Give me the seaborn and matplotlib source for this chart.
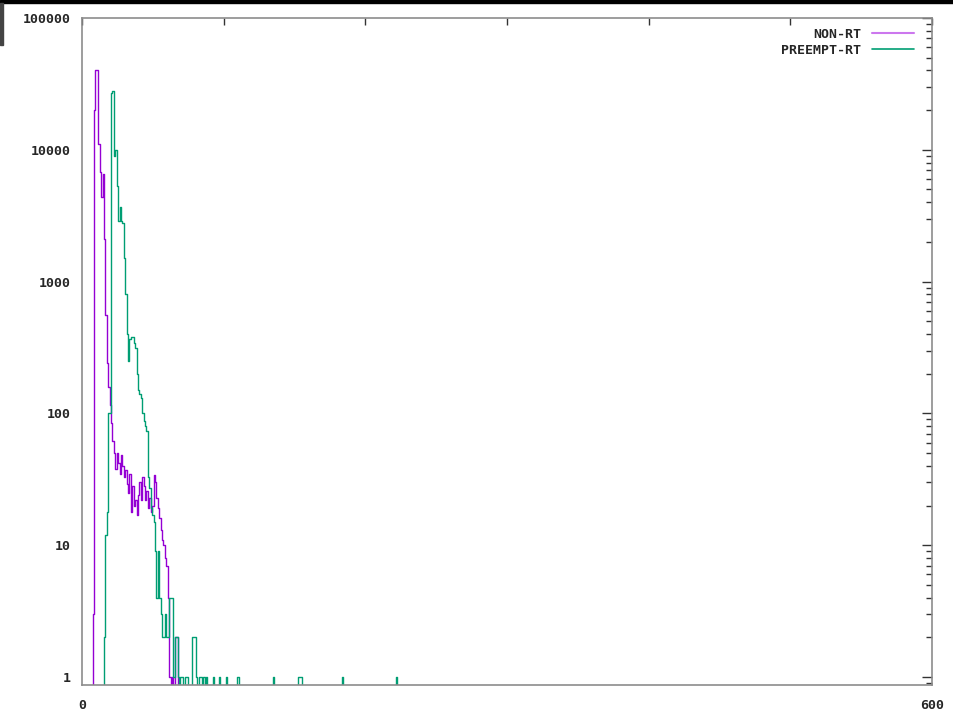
import numpy as np
import pandas as pd
import matplotlib
matplotlib.use("Agg")
import matplotlib.pyplot as plt
from matplotlib.lines import Line2D
from matplotlib.patches import Rectangle
import seaborn as sns

# histogram bins (latency, 1 unit per bin)
latency = np.arange(0, 241)

# NON-RT counts, first value sits in bin 8
nonrt_start = 8
nonrt_counts = [3, 20000, 40000, 40000, 11000, 6800, 4400, 6500, 2100, 560,  # 8-17
                240, 160, 115, 85, 62, 50, 38, 50, 42, 35,                  # 18-27
                48, 40, 33, 37, 29, 25, 35, 18, 28, 20,                     # 28-37
                22, 17, 24, 30, 22, 33, 28, 22, 26, 19,                     # 38-47
                23, 18, 20, 34, 30, 23, 19, 16, 13, 11,                     # 48-57
                10, 8, 7, 4, 1, 0, 1, 0, 2, 2]                              # 58-67

# PREEMPT-RT counts, first value sits in bin 16
preempt_start = 16
preempt_counts = [2, 12, 18, 100, 100, 27000, 28000, 9000, 10000, 5300,     # 16-25
                  2900, 3700, 2900, 2800, 1500, 810, 400, 250, 370, 380,    # 26-35
                  380, 340, 315, 200, 150, 140, 130, 100, 88, 80,           # 36-45
                  74, 33, 27, 19, 17, 15, 9, 4, 9, 4,                       # 46-55
                  3, 2, 2, 3, 2, 2, 4, 4, 4, 1,                             # 56-65
                  2, 2, 1, 0, 1, 1, 0, 1, 1, 0,                             # 66-75
                  0, 0, 2, 2, 2, 1, 0, 1, 1, 0,                             # 76-85
                  1, 0, 1, 0]                                               # 86-89

# isolated outliers further out
preempt_tail_bins = [93, 97, 102, 110, 135, 153, 154, 155, 184, 222]
preempt_tail_counts = [1, 1, 1, 1, 1, 1, 1, 1, 1, 1]

nonrt = np.zeros(len(latency))
nonrt[nonrt_start:nonrt_start + len(nonrt_counts)] = nonrt_counts
preempt = np.zeros(len(latency))
preempt[preempt_start:preempt_start + len(preempt_counts)] = preempt_counts
preempt[preempt_tail_bins] = preempt_tail_counts

df = pd.concat([
    pd.DataFrame({"latency": latency, "count": nonrt, "kernel": "NON-RT"}),
    pd.DataFrame({"latency": latency, "count": preempt, "kernel": "PREEMPT-RT"}),
])

colors = {"NON-RT": "#9400d3", "PREEMPT-RT": "#009e73"}

sns.set_style("white")
plt.rcParams["font.family"] = ["DejaVu Sans Mono"]
plt.rcParams["font.weight"] = "bold"

fig = plt.figure(figsize=(9.54, 7.17), dpi=100)
ax = fig.add_axes([82 / 954, 1 - 685 / 717, 850 / 954, 667 / 717])

sns.lineplot(data=df, x="latency", y="count", hue="kernel", palette=colors,
             estimator=None, drawstyle="steps-mid", linewidth=1.0,
             legend=False, ax=ax)

ax.set_yscale("log", nonpositive="clip")
ax.set_xlim(0, 600)
ax.set_ylim(0.87, 100000)

ax.set_xticks(range(0, 601, 100))
ax.set_xticklabels(["0", "", "", "", "", "", "600"])
ax.set_yticks([1, 10, 100, 1000, 10000, 100000])
ax.set_yticklabels(["1", "10", "100", "1000", "10000", "100000"])
ax.tick_params(axis="both", which="both", direction="in", top=True, right=True,
               labelsize=9.5, color="#333333")
ax.tick_params(axis="x", which="major", length=5, width=1, pad=10)
ax.tick_params(axis="y", which="major", length=7, width=1, pad=8)
ax.tick_params(axis="y", which="minor", length=4, width=1)
ax.set_xlabel("")
ax.set_ylabel("")
for spine in ax.spines.values():
    spine.set_color("#8c8c8c")
    spine.set_linewidth(1.2)

handles = [Line2D([], [], color="#cc77ee", lw=1.5),
           Line2D([], [], color=colors["PREEMPT-RT"], lw=1.2)]
ax.legend(handles, ["NON-RT", "PREEMPT-RT"], loc="upper right",
          bbox_to_anchor=(1 - 6 / 850, 1 + 2 / 667), frameon=False,
          markerfirst=False, handlelength=3.2, handletextpad=0.8,
          borderaxespad=0.5, labelspacing=0.2,
          prop={"family": "DejaVu Sans Mono", "weight": "bold", "size": 9.5})

# screenshot edges
fig.patches.append(Rectangle((0, 1 - 3 / 717), 1, 3 / 717, transform=fig.transFigure,
                             color="black", zorder=10))
fig.patches.append(Rectangle((0, 1 - 45 / 717), 3 / 954, 42 / 717, transform=fig.transFigure,
                             color="#444444", zorder=10))

fig.savefig("out.png", dpi=100)
